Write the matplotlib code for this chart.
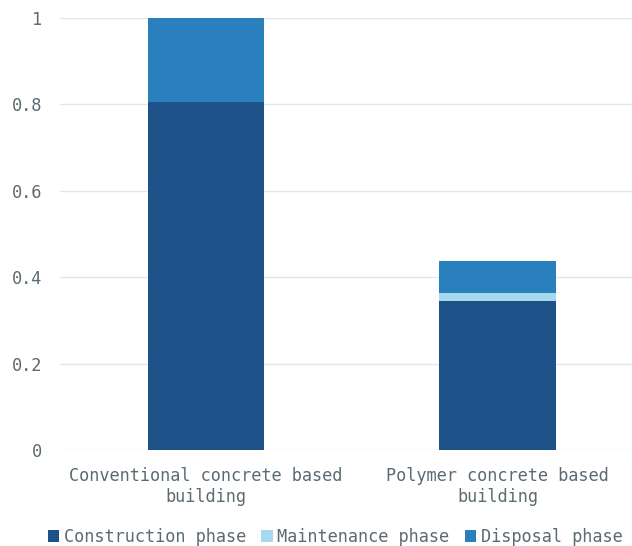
import numpy as np
import matplotlib.pyplot as plt

plt.rcParams['font.family'] = ['DejaVu Sans Mono']

categories = ["Conventional concrete based\nbuilding", "Polymer concrete based\nbuilding"]
construction = [0.806, 0.346]
maintenance = [0.0, 0.018]
disposal = [0.194, 0.074]
yticks = [0, 0.2, 0.4, 0.6, 0.8, 1]
ytick_labels = ["0", "0.2", "0.4", "0.6", "0.8", "1"]

fig = plt.figure(figsize=(6.32, 5.46), dpi=100)
ax = fig.add_axes([60 / 632, 1 - 450 / 546, 1 - 60 / 632, 432 / 546])

x = np.arange(len(categories))
w = 0.4
ax.bar(x, construction, w, color="#1d5289", label="Construction phase", zorder=2)
ax.bar(x, maintenance, w, bottom=construction, color="#a5d9ee", label="Maintenance phase", zorder=2)
bottom2 = np.array(construction) + np.array(maintenance)
ax.bar(x, disposal, w, bottom=bottom2, color="#2a80bd", label="Disposal phase", zorder=2)

ax.set_ylim(0, 1)
ax.set_xlim(-0.5, 1.46)
ax.set_yticks(yticks)
ax.set_yticklabels(ytick_labels)
ax.set_xticks(x)
ax.set_xticklabels(categories, linespacing=1.25)
ax.tick_params(axis="both", length=0, labelsize=12.2, labelcolor="#5b6b72")
ax.tick_params(axis="y", pad=13)
ax.tick_params(axis="x", pad=12)
ax.grid(axis="y", color="#dde9ee", linewidth=1, zorder=0)
for s in ax.spines.values():
    s.set_visible(False)

leg = fig.legend(loc="center", bbox_to_anchor=(0.53, 1 - 537 / 546), ncol=3, frameon=False,
                 fontsize=12.2, handlelength=0.7, handleheight=0.7, handletextpad=0.25,
                 columnspacing=0.9, borderaxespad=0)
for t in leg.get_texts():
    t.set_color("#5b6b72")

fig.savefig("out.png", dpi=100)
